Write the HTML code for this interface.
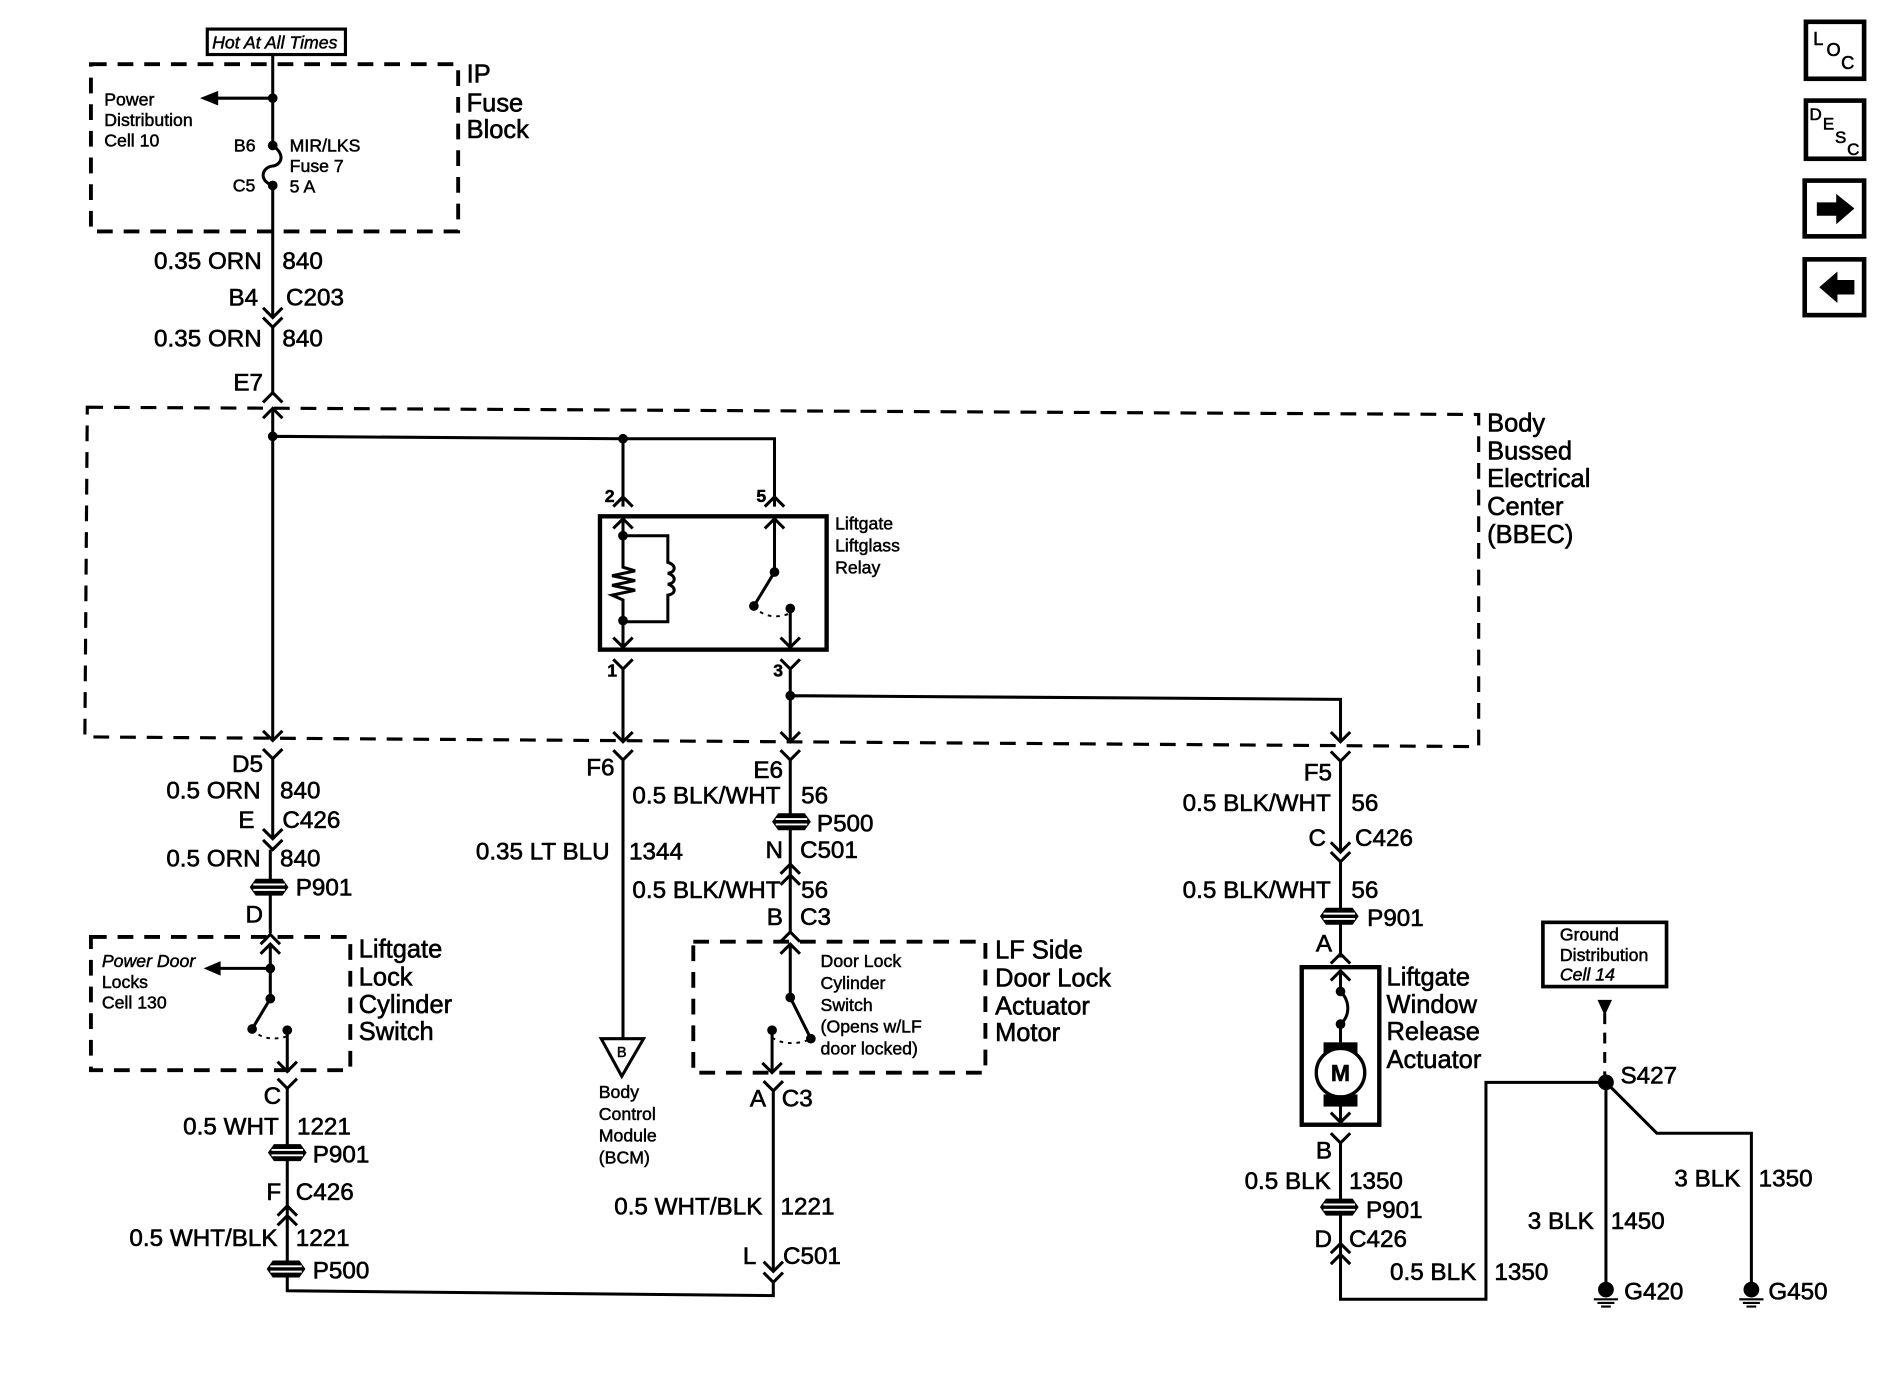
<!DOCTYPE html>
<html><head><meta charset="utf-8"><style>
html,body{margin:0;padding:0;background:#fff}
svg{display:block}
text{font-family:"Liberation Sans",sans-serif;fill:#000;stroke:#000;stroke-width:.5;font-size:20px}
.s{font-size:14.6px;stroke-width:.4}
.n{font-size:21px}
.e{text-anchor:end}
.i{font-style:italic}
.w{fill:none;stroke:#000;stroke-width:2.5}
.d{fill:none;stroke:#000;stroke-width:3.2;stroke-dasharray:13 9}
.b{fill:none;stroke:#000;stroke-width:2.6;stroke-dasharray:13 9}
.o{fill:#fff;stroke:#000;stroke-width:3.8}
</style></head><body>
<svg width="1900" height="1376" viewBox="0 0 1567.6 1135.3" xmlns="http://www.w3.org/2000/svg">
<defs>
<path id="y" d="M-8 -8L0 0L8 -8" fill="none" stroke="#000" stroke-width="2.5"/>
<path id="u" d="M-8 8L0 0L8 8" fill="none" stroke="#000" stroke-width="2.5"/>
<g id="p"><path d="M-16 0L-11 -7H11L16 0L11 7H-11Z" fill="#000"/><path d="M-13 -2.2H13M-13 2.2H13" stroke="#fff" stroke-width="1.6"/></g>
<circle id="c" r="4" fill="#000"/>
<g id="g"><circle cy="0" r="6.5" fill="#000"/><path d="M-10 8H10M-7 11H7M-4 14H4" stroke="#000" stroke-width="1.8"/></g>
</defs>

<!-- top power -->
<rect x="171" y="24" width="114" height="21" fill="none" stroke="#000" stroke-width="2.6"/>
<text x="175" y="40" class="s i">Hot At All Times</text>
<rect class="d" x="75" y="53" width="303" height="138"/>
<text x="385" y="68" class="n">IP</text><text x="385" y="92" class="n">Fuse</text><text x="385" y="114" class="n">Block</text>
<path class="w" d="M225 45V120M225 81H175"/>
<path d="M165 81L180 75V87Z"/>
<use href="#c" x="225" y="81"/><use href="#c" x="225" y="120"/><use href="#c" x="225" y="153"/>
<path class="w" d="M225 120C236 128 232 136 225 137C216 138 213 149 225 153"/>
<path class="w" d="M225 153V262"/>
<text x="86" y="87" class="s">Power</text><text x="86" y="104" class="s">Distribution</text><text x="86" y="121" class="s">Cell 10</text>
<text x="193" y="125" class="s">B6</text><text x="192" y="158" class="s">C5</text>
<text x="239" y="125" class="s">MIR/LKS</text><text x="239" y="142" class="s">Fuse 7</text><text x="239" y="159" class="s">5 A</text>
<text x="216" y="222" class="e">0.35 ORN</text><text x="233" y="222">840</text>
<text x="213" y="252" class="e">B4</text><text x="236" y="252">C203</text>
<use href="#y" x="225" y="262"/><use href="#y" x="225" y="270"/>
<path class="w" d="M225 270V326"/>
<text x="216" y="286" class="e">0.35 ORN</text><text x="233" y="286">840</text>
<text x="217" y="322" class="e">E7</text>
<use href="#u" x="225" y="324"/><use href="#u" x="225" y="337"/>

<!-- BBEC -->
<path class="b" d="M72 336L1220 342V616L70 608Z"/>
<text x="1227" y="356" class="n">Body</text><text x="1227" y="379" class="n">Bussed</text><text x="1227" y="402" class="n">Electrical</text><text x="1227" y="425" class="n">Center</text><text x="1227" y="448" class="n">(BBEC)</text>
<path class="w" d="M225 337V610M225 360L514 362H639V418M514 362V418"/>
<use href="#y" x="225" y="611"/>
<use href="#c" x="225" y="360"/><use href="#c" x="514" y="362"/>
<text x="499" y="414" class="s" font-weight="bold">2</text><text x="624" y="414" class="s" font-weight="bold">5</text>
<use href="#u" x="514" y="410"/><use href="#u" x="639" y="410"/>

<!-- relay -->
<rect x="495" y="426" width="187" height="110" fill="none" stroke="#000" stroke-width="3.6"/>
<text x="689" y="437" class="s">Liftgate</text><text x="689" y="455" class="s">Liftglass</text><text x="689" y="473" class="s">Relay</text>
<use href="#u" x="514" y="428"/><use href="#u" x="639" y="428"/>
<path class="w" d="M514 428V468L524 471L505 475L524 479L505 483L524 487L505 491L514 495V534M514 442H551V464C558 466 558 472 551 473C558 475 558 481 551 482C558 484 558 490 551 491V513H514"/>
<use href="#c" x="514" y="442"/><use href="#c" x="514" y="512"/>
<use href="#y" x="514" y="534"/><use href="#y" x="652" y="534"/>
<path class="w" d="M639 428V472L622 500"/>
<use href="#c" x="639" y="472"/><use href="#c" x="622" y="500"/><use href="#c" x="652" y="502"/>
<path d="M622 500C630 510 642 510 652 506" fill="none" stroke="#000" stroke-width="1.6" stroke-dasharray="3 4"/>
<path class="w" d="M652 502V534"/>
<text x="501" y="558" class="s" font-weight="bold">1</text><text x="638" y="558" class="s" font-weight="bold">3</text>
<use href="#y" x="514" y="552"/><use href="#y" x="652" y="552"/>
<path class="w" d="M514 552V611M652 552V611M652 574L1106 577V611"/>
<use href="#c" x="652" y="574"/>
<use href="#y" x="514" y="612"/><use href="#y" x="652" y="612"/><use href="#y" x="1106" y="612"/>

<!-- left column -->
<use href="#y" x="225" y="626"/>
<path class="w" d="M225 626V692"/>
<text x="217" y="637" class="e">D5</text>
<text x="215" y="659" class="e">0.5 ORN</text><text x="231" y="659">840</text>
<text x="210" y="683" class="e">E</text><text x="233" y="683">C426</text>
<use href="#y" x="225" y="692"/><use href="#y" x="225" y="701"/>
<path class="w" d="M223 701V770"/>
<text x="215" y="715" class="e">0.5 ORN</text><text x="231" y="715">840</text>
<use href="#p" x="222" y="732"/><text x="244" y="739">P901</text>
<text x="217" y="761" class="e">D</text>
<use href="#u" x="223" y="771"/>
<rect class="d" x="75" y="773" width="214" height="110"/>
<use href="#u" x="223" y="779"/>
<path class="w" d="M223 779V824L208 849M223 799H178"/>
<path d="M168 799L182 793V805Z"/>
<use href="#c" x="223" y="799"/><use href="#c" x="223" y="824"/><use href="#c" x="208" y="849"/><use href="#c" x="237" y="850"/>
<path d="M208 849C215 858 228 858 237 855" fill="none" stroke="#000" stroke-width="1.6" stroke-dasharray="3 4"/>
<path class="w" d="M237 850V883"/><use href="#y" x="237" y="884"/>
<text x="84" y="798" class="s i">Power Door</text><text x="84" y="815" class="s">Locks</text><text x="84" y="832" class="s">Cell 130</text>
<text x="296" y="790" class="n">Liftgate</text><text x="296" y="813" class="n">Lock</text><text x="296" y="836" class="n">Cylinder</text><text x="296" y="858" class="n">Switch</text>
<use href="#y" x="237" y="898"/>
<path class="w" d="M237 898V1065L638 1069V1058"/>
<text x="232" y="911" class="e">C</text>
<text x="230" y="936" class="e">0.5 WHT</text><text x="245" y="936">1221</text>
<use href="#p" x="237" y="951"/><text x="258" y="959">P901</text>
<text x="232" y="990" class="e">F</text><text x="244" y="990">C426</text>
<use href="#u" x="237" y="995"/><use href="#u" x="237" y="1003"/>
<text x="229" y="1028" class="e">0.5 WHT/BLK</text><text x="244" y="1028">1221</text>
<use href="#p" x="236" y="1047"/><text x="258" y="1055">P500</text>

<!-- F6 -->
<use href="#y" x="514" y="627"/>
<path class="w" d="M514 627V858"/>
<text x="507" y="640" class="e">F6</text>
<text x="503" y="709" class="e">0.35 LT BLU</text><text x="519" y="709">1344</text>
<path d="M496 857H531L513 888Z" fill="#fff" stroke="#000" stroke-width="2.5"/>
<text x="513" y="872" class="s" text-anchor="middle" style="font-size:12px">B</text>
<text x="494" y="906" class="s">Body</text><text x="494" y="924" class="s">Control</text><text x="494" y="942" class="s">Module</text><text x="494" y="960" class="s">(BCM)</text>

<!-- E6 -->
<use href="#y" x="652" y="627"/>
<path class="w" d="M652 627V770"/>
<text x="646" y="642" class="e">E6</text>
<text x="644" y="663" class="e">0.5 BLK/WHT</text><text x="661" y="663">56</text>
<use href="#p" x="653" y="678"/><text x="674" y="686">P500</text>
<text x="646" y="708" class="e">N</text><text x="660" y="708">C501</text>
<use href="#u" x="652" y="713"/><use href="#u" x="652" y="722"/>
<text x="644" y="741" class="e">0.5 BLK/WHT</text><text x="661" y="741">56</text>
<text x="646" y="763" class="e">B</text><text x="660" y="763">C3</text>
<use href="#u" x="652" y="769"/>
<rect class="d" x="572" y="777" width="241" height="108"/>
<use href="#u" x="652" y="779"/>
<path class="w" d="M652 779V823L669 857"/>
<use href="#c" x="652" y="823"/><use href="#c" x="669" y="857"/><use href="#c" x="637" y="850"/>
<path d="M637 856C645 862 660 862 669 857" fill="none" stroke="#000" stroke-width="1.6" stroke-dasharray="3 4"/>
<path class="w" d="M637 850V884"/><use href="#y" x="637" y="885"/>
<text x="677" y="798" class="s">Door Lock</text><text x="677" y="816" class="s">Cylinder</text><text x="677" y="834" class="s">Switch</text><text x="677" y="852" class="s">(Opens w/LF</text><text x="677" y="870" class="s">door locked)</text>
<text x="821" y="791" class="n">LF Side</text><text x="821" y="814" class="n">Door Lock</text><text x="821" y="837" class="n">Actuator</text><text x="821" y="859" class="n">Motor</text>
<use href="#y" x="638" y="900"/>
<path class="w" d="M638 900V1049"/><use href="#y" x="638" y="1049"/><use href="#y" x="638" y="1058"/>
<text x="632" y="913" class="e">A</text><text x="645" y="913">C3</text>
<text x="629" y="1002" class="e">0.5 WHT/BLK</text><text x="644" y="1002">1221</text>
<text x="624" y="1043" class="e">L</text><text x="646" y="1043">C501</text>

<!-- F5 -->
<use href="#y" x="1106" y="628"/>
<path class="w" d="M1106 628V702M1106 710V790"/>
<text x="1099" y="644" class="e">F5</text>
<text x="1098" y="669" class="e">0.5 BLK/WHT</text><text x="1115" y="669">56</text>
<text x="1094" y="698" class="e">C</text><text x="1118" y="698">C426</text>
<use href="#y" x="1106" y="703"/><use href="#y" x="1106" y="711"/>
<text x="1098" y="741" class="e">0.5 BLK/WHT</text><text x="1115" y="741">56</text>
<use href="#p" x="1105" y="756"/><text x="1128" y="764">P901</text>
<text x="1099" y="785" class="e">A</text>
<use href="#u" x="1106" y="787"/>
<rect x="1074" y="798" width="64" height="130" fill="none" stroke="#000" stroke-width="3.6"/>
<use href="#u" x="1106" y="801"/>
<path class="w" d="M1106 801V818C1114 826 1114 838 1106 845V860M1106 910V925"/>
<use href="#c" x="1106" y="818"/><use href="#c" x="1106" y="845"/>
<rect x="1092" y="860" width="28" height="10"/><rect x="1092" y="903" width="28" height="10"/>
<circle cx="1106" cy="885" r="20" fill="#fff" stroke="#000" stroke-width="2.8"/>
<text x="1106" y="892" text-anchor="middle" style="font-size:19px;font-weight:bold">M</text>
<use href="#y" x="1106" y="926"/>
<text x="1144" y="813" class="n">Liftgate</text><text x="1144" y="836" class="n">Window</text><text x="1144" y="858" class="n">Release</text><text x="1144" y="881" class="n">Actuator</text>
<use href="#y" x="1106" y="943"/>
<path class="w" d="M1106 943V1036M1106 1036V1072H1226V893H1325"/>
<text x="1099" y="956" class="e">B</text>
<text x="1098" y="981" class="e">0.5 BLK</text><text x="1113" y="981">1350</text>
<use href="#p" x="1105" y="996"/><text x="1127" y="1005">P901</text>
<text x="1099" y="1029" class="e">D</text><text x="1113" y="1029">C426</text>
<use href="#u" x="1106" y="1026"/><use href="#u" x="1106" y="1035"/>
<text x="1218" y="1056" class="e">0.5 BLK</text><text x="1233" y="1056">1350</text>

<!-- ground -->
<rect x="1273" y="761" width="102" height="53" fill="none" stroke="#000" stroke-width="3"/>
<text x="1287" y="776" class="s">Ground</text><text x="1287" y="793" class="s">Distribution</text><text x="1287" y="809" class="s i">Cell 14</text>
<path d="M1318 825H1330L1324 838Z"/>
<path class="w" d="M1324 836V893" stroke-dasharray="9 7"/>
<circle cx="1325" cy="893" r="6.5"/>
<text x="1337" y="894">S427</text>
<path class="w" d="M1325 893V1062M1325 893L1367 935H1445V1062"/>
<use href="#g" x="1325" y="1064"/><use href="#g" x="1445" y="1064"/>
<text x="1436" y="979" class="e">3 BLK</text><text x="1451" y="979">1350</text>
<text x="1315" y="1014" class="e">3 BLK</text><text x="1329" y="1014">1450</text>
<text x="1340" y="1072">G420</text><text x="1459" y="1072">G450</text>

<!-- nav -->
<rect class="o" x="1490" y="18" width="48" height="47"/>
<text x="1496" y="37" style="font-size:15px">L</text><text x="1507" y="46" style="font-size:15px">O</text><text x="1519" y="57" style="font-size:15px">C</text>
<rect class="o" x="1490" y="83" width="48" height="48"/>
<text x="1493" y="99" style="font-size:14px">D</text><text x="1504" y="107" style="font-size:14px">E</text><text x="1514" y="118" style="font-size:14px">S</text><text x="1524" y="128" style="font-size:14px">C</text>
<rect class="o" x="1489" y="149" width="49" height="46"/>
<path d="M1499 167H1515V160L1530 172L1515 185V178H1499Z"/>
<rect class="o" x="1489" y="214" width="49" height="46"/>
<path d="M1530 231H1516V224L1501 237L1516 250V243H1530Z"/>
</svg>
</body></html>
